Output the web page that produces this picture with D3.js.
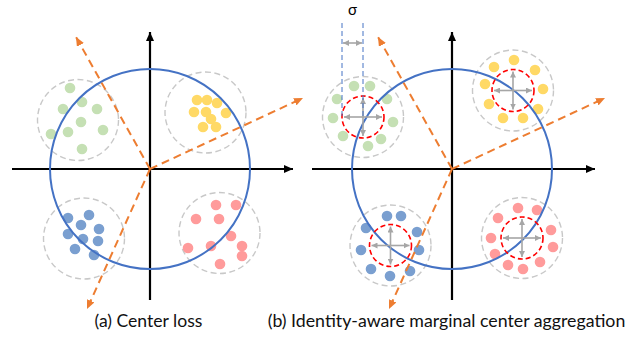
<!DOCTYPE html>
<html>
<head>
<meta charset="utf-8">
<script src="https://cdn.jsdelivr.net/npm/d3@7/dist/d3.min.js"></script>
<style>
  html, body { margin: 0; padding: 0; background: #fff; }
  svg { display: block; }
</style>
</head>
<body>
<svg id="fig" width="637" height="339"></svg>
<script>
// ---- Feature-space coordinates (unit circle = normalised hypersphere) ----

// Panel captions
const captions = ["(a) Center loss", "(b) Identity-aware marginal center aggregation"];

// Class colours: green, yellow, blue, pink
const classColors = ["#C5E0B4", "#FFD966", "#7A9FD0", "#FF9B9B"];

// (a) Center loss: samples of each identity
const lossGreen  = [[-0.80,0.81],[-0.87,0.60],[-0.68,0.67],[-0.53,0.60],[-0.69,0.47],[-0.99,0.35],[-0.82,0.37],[-0.47,0.39],[-0.68,0.20]];
const lossYellow = [[0.47,0.69],[0.57,0.69],[0.67,0.66],[0.44,0.57],[0.56,0.57],[0.76,0.56],[0.61,0.50],[0.53,0.42],[0.66,0.42]];
const lossBlue   = [[-0.82,-0.49],[-0.61,-0.46],[-0.69,-0.56],[-0.51,-0.60],[-0.82,-0.65],[-0.67,-0.70],[-0.52,-0.72],[-0.75,-0.80],[-0.56,-0.86]];
const lossPink   = [[0.66,-0.36],[0.86,-0.36],[0.46,-0.50],[0.69,-0.50],[0.81,-0.67],[0.38,-0.79],[0.61,-0.77],[0.92,-0.77],[0.92,-0.87],[0.70,-0.95]];
const lossCenters = [[-0.72,0.49],[0.555,0.565],[-0.66,-0.695],[0.695,-0.64]];

// (b) Identity-aware marginal center aggregation: samples pushed to a margin ring
const margGreen  = [[-0.98,0.83],[-0.82,0.83],[-1.15,0.70],[-0.65,0.70],[-1.19,0.51],[-0.59,0.47],[-1.09,0.33],[-0.71,0.30],[-0.84,0.23]];
const margYellow = [[0.62,1.09],[0.42,1.02],[0.83,0.99],[0.33,0.85],[0.91,0.80],[0.37,0.65],[0.86,0.60],[0.51,0.51],[0.71,0.51]];
const margBlue   = [[-0.65,-0.47],[-0.51,-0.47],[-0.86,-0.59],[-0.35,-0.63],[-0.91,-0.81],[-0.33,-0.81],[-0.81,-1.00],[-0.62,-1.07],[-0.42,-1.02]];
const margPink   = [[0.66,-0.39],[0.85,-0.41],[0.46,-0.49],[0.99,-0.61],[0.39,-0.69],[1.01,-0.78],[0.43,-0.85],[0.56,-0.96],[0.71,-1.00],[0.88,-0.93]];
const margCenters = [[-0.89,0.52],[0.61,0.785],[-0.615,-0.765],[0.70,-0.69]];

// Shared geometry values
const clusterRadius = 0.405;   // dashed grey boundary of each identity
const sigma = 0.21;            // margin radius (red dashed circle)
const dotRadius = 0.053;
const crossArm = 0.19;
const classDirs = [[-0.74,1.32],[1.53,0.71],[-0.63,-1.40]];  // orange class-weight directions
const axisX = [-1.38, 1.43];
const axisY = [-1.31, 1.37];
const axisXRight = [-1.40, 1.43];

// Sigma annotation
const sigmaLines = [-1.10, -0.89];
const sigmaTop = 1.46, sigmaBottom = 0.52, sigmaArrowY = 1.26, sigmaLabelY = 1.54;

const svg = d3.select("#fig");
const defs = svg.append("defs");

function marker(id, color, w, h) {
  defs.append("marker")
    .attr("id", id).attr("viewBox", `0 0 ${w} ${h}`)
    .attr("refX", w).attr("refY", h / 2)
    .attr("markerWidth", w).attr("markerHeight", h)
    .attr("markerUnits", "userSpaceOnUse")
    .attr("orient", "auto-start-reverse")
    .append("path").attr("d", `M0,0L${w},${h/2}L0,${h}Z`).attr("fill", color);
}
marker("arrBlack", "#000", 9, 8);
marker("arrOrange", "#ED7D31", 9, 8);
marker("arrGrey", "#A6A6A6", 6, 6);

function drawPanel(ox, oy, xExtent, dots, centers, withMargin, caption, capX, capW) {
  const x = d3.scaleLinear().domain([-1, 1]).range([ox - 100, ox + 100]);
  const y = d3.scaleLinear().domain([-1, 1]).range([oy + 100, oy - 100]);
  const r = v => x(v) - x(0);
  const g = svg.append("g");

  // axes
  g.append("line").attr("x1", x(xExtent[0])).attr("x2", x(xExtent[1]))
    .attr("y1", y(0)).attr("y2", y(0))
    .attr("stroke", "#000").attr("stroke-width", 2.2).attr("marker-end", "url(#arrBlack)");
  g.append("line").attr("x1", x(0)).attr("x2", x(0))
    .attr("y1", y(axisY[0])).attr("y2", y(axisY[1]))
    .attr("stroke", "#000").attr("stroke-width", 2.2).attr("marker-end", "url(#arrBlack)");

  // identity boundaries
  g.selectAll("circle.bound").data(centers).join("circle")
    .attr("class", "bound")
    .attr("cx", d => x(d[0])).attr("cy", d => y(d[1])).attr("r", r(clusterRadius))
    .attr("fill", "none").attr("stroke", "#C8C8C8").attr("stroke-width", 1.4)
    .attr("stroke-dasharray", "6,3.5");

  // samples
  dots.forEach((set, i) => {
    g.selectAll(null).data(set).join("circle")
      .attr("cx", d => x(d[0])).attr("cy", d => y(d[1])).attr("r", r(dotRadius))
      .attr("fill", classColors[i]);
  });

  // normalised hypersphere
  g.append("circle").attr("cx", x(0)).attr("cy", y(0)).attr("r", r(1))
    .attr("fill", "none").attr("stroke", "#4472C4").attr("stroke-width", 2);

  // class directions
  g.selectAll("line.dir").data(classDirs).join("line")
    .attr("class", "dir")
    .attr("x1", x(0)).attr("y1", y(0))
    .attr("x2", d => x(d[0])).attr("y2", d => y(d[1]))
    .attr("stroke", "#ED7D31").attr("stroke-width", 2)
    .attr("stroke-dasharray", "8,5").attr("marker-end", "url(#arrOrange)");

  if (withMargin) {
    g.selectAll("circle.margin").data(centers).join("circle")
      .attr("class", "margin")
      .attr("cx", d => x(d[0])).attr("cy", d => y(d[1])).attr("r", r(sigma))
      .attr("fill", "none").attr("stroke", "#FF0000").attr("stroke-width", 1.6)
      .attr("stroke-dasharray", "5,3");
    const arms = [[crossArm, 0], [-crossArm, 0], [0, crossArm], [0, -crossArm]];
    centers.forEach(c => {
      g.selectAll(null).data(arms).join("line")
        .attr("x1", x(c[0])).attr("y1", y(c[1]))
        .attr("x2", d => x(c[0] + d[0])).attr("y2", d => y(c[1] + d[1]))
        .attr("stroke", "#A6A6A6").attr("stroke-width", 1.6)
        .attr("marker-end", "url(#arrGrey)");
    });

    // sigma annotation
    g.selectAll("line.sig").data(sigmaLines).join("line")
      .attr("class", "sig")
      .attr("x1", d => x(d)).attr("x2", d => x(d))
      .attr("y1", y(sigmaTop)).attr("y2", y(sigmaBottom))
      .attr("stroke", "#4472C4").attr("stroke-width", 1).attr("stroke-dasharray", "5,3");
    g.append("line")
      .attr("x1", x(sigmaLines[0]) + 1).attr("x2", x(sigmaLines[1]) - 1)
      .attr("y1", y(sigmaArrowY)).attr("y2", y(sigmaArrowY))
      .attr("stroke", "#A6A6A6").attr("stroke-width", 1.6)
      .attr("marker-start", "url(#arrGrey)").attr("marker-end", "url(#arrGrey)");
    g.append("text")
      .attr("x", x((sigmaLines[0] + sigmaLines[1]) / 2)).attr("y", y(sigmaLabelY))
      .attr("text-anchor", "middle")
      .attr("font-family", "Lato, 'Open Sans', sans-serif").attr("font-size", 15)
      .attr("fill", "#000").text("σ");
  }

  // caption, sized to its slot
  const t = svg.append("text")
    .attr("x", capX).attr("y", 327).attr("text-anchor", "middle")
    .attr("font-family", "Lato, 'Open Sans', sans-serif").attr("font-size", 18)
    .attr("fill", "#111").text(caption);
  const w = t.node().getComputedTextLength();
  t.attr("font-size", 18 * capW / w);
}

drawPanel(150, 169, axisX, [lossGreen, lossYellow, lossBlue, lossPink], lossCenters, false,
          captions[0], 148.5, 108);
drawPanel(452, 169, axisXRight, [margGreen, margYellow, margBlue, margPink], margCenters, true,
          captions[1], 446.5, 358);
</script>
</body>
</html>
